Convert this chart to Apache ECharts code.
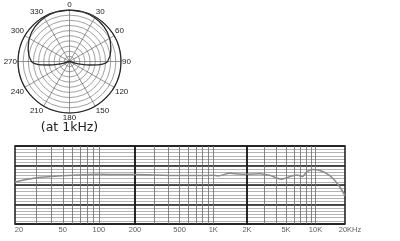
<!DOCTYPE html>
<html><head><meta charset="utf-8">
<script src="https://cdn.jsdelivr.net/npm/echarts@6/dist/echarts.min.js"></script>
<style>html,body{margin:0;padding:0;background:#fff}#c{width:400px;height:241px}</style>
</head><body><div id="c"></div>
<script>
// Polar pattern (at 1kHz): angle in degrees, level on 0..10 ring scale
const polarAngles = [0, 15, 30, 45, 60, 75, 90, 94, 97, 100, 103, 107, 115, 180, 245, 253, 257, 260, 263, 266, 270, 285, 300, 315, 330, 345, 360];
const polarLevels = [10, 9.95, 9.8, 9.5, 9.0, 8.3, 7.4, 6.6, 5.4, 3.9, 2.5, 1.1, 0, 0, 0, 1.1, 2.5, 3.9, 5.4, 6.6, 7.4, 8.3, 9.0, 9.5, 9.8, 9.95, 10];
const angleTickLabels = ['0', '30', '60', '90', '120', '150', '180', '210', '240', '270', '300', '330'];

// Frequency response
const freqs = [20, 30, 40, 60, 100, 150, 200, 300, 500, 760, 1000, 1100, 1400, 1700, 2000, 2700, 3400, 4500, 5500, 6500, 7300, 8200, 9400, 10600, 12500, 15000, 17800, 20000];
const levels = [12.9, 14.2, 14.6, 15.0, 15.3, 15.2, 15.2, 15.1, 14.9, 14.9, 15.0, 14.8, 15.6, 15.4, 15.3, 15.5, 15.0, 13.8, 14.6, 15.1, 14.6, 16.1, 16.8, 16.6, 15.8, 14.1, 11.3, 8.7];
const freqTickValues = [20, 50, 100, 200, 500, 1000, 2000, 5000, 10000, 20000];
const freqTickLabels = ['20', '50', '100', '200', '500', '1K', '2K', '5K', '10K', '20KHz'];
const minorFreqs = [30, 40, 50, 60, 70, 80, 90, 100, 300, 400, 500, 600, 700, 800, 900, 1000, 3000, 4000, 5000, 6000, 7000, 8000, 9000, 10000];
const decades = [[20, 200], [200, 2000], [2000, 20000]];

const gridBoxes = [[15, 120], [135, 112], [247, 98]];
const FONT = 'Liberation Sans, Arial, sans-serif';

const grids = [], xAxes = [], yAxes = [], series = [];
decades.forEach((d, i) => {
  const [lo, hi] = d;
  grids.push({left: gridBoxes[i][0], width: gridBoxes[i][1], top: 146, height: 78,
    show: true, borderColor: '#1a1a1a', borderWidth: 1.5, backgroundColor: 'transparent', z: 5});
  xAxes.push({type: 'log', logBase: 10, gridIndex: i, min: lo, max: hi,
    axisLabel: {show: false}, axisTick: {show: false}, axisLine: {show: false}, splitLine: {show: false}});
  yAxes.push({type: 'value', gridIndex: i, min: 0, max: 24, interval: 1,
    axisLabel: {show: false}, axisTick: {show: false}, axisLine: {show: false},
    splitLine: {show: true, lineStyle: {color: '#a0a0a0', width: 0.8}}});
  yAxes.push({type: 'value', gridIndex: i, min: 0, max: 24, interval: 6,
    axisLabel: {show: false}, axisTick: {show: false}, axisLine: {show: false},
    splitLine: {show: true, lineStyle: {color: '#1a1a1a', width: 1.5}}});
  const pts = [];
  freqs.forEach((f, k) => { if (f >= lo && f <= hi) pts.push([f, levels[k]]); });
  series.push({type: 'line', xAxisIndex: i, yAxisIndex: 2 * i, data: pts, smooth: 0.3,
    symbol: 'none', z: 10, lineStyle: {color: '#8a8a8a', width: 1.5},
    markLine: {silent: true, symbol: 'none', label: {show: false}, animation: false,
      lineStyle: {color: '#6a6a6a', width: 0.8, type: 'solid'},
      data: minorFreqs.filter(f => f > lo && f < hi).map(f => ({xAxis: f}))}});
  const labs = [];
  freqTickValues.forEach((f, k) => {
    if ((f >= lo && f < hi) || (i === decades.length - 1 && f === hi)) {
      const item = {value: [f, 0], name: freqTickLabels[k]};
      if (k === 0) item.label = {offset: [4, 0]};
      if (k === freqTickValues.length - 1) item.label = {offset: [5, 0]};
      labs.push(item);
    }
  });
  series.push({type: 'scatter', xAxisIndex: i, yAxisIndex: 2 * i, data: labs, symbolSize: 0,
    silent: true, z: 12,
    label: {show: true, position: 'bottom', distance: 2, formatter: p => p.name,
      fontFamily: FONT, fontSize: 7.5, color: '#333'}});
});

series.push({type: 'line', coordinateSystem: 'polar', symbol: 'none', smooth: 0.3,
  data: polarAngles.map((a, i) => [polarLevels[i], a]),
  lineStyle: {color: '#2a2a2a', width: 1.3}, z: 10});

const chart = echarts.init(document.getElementById('c'), null, {renderer: 'canvas'});
chart.setOption({
  animation: false,
  backgroundColor: '#fff',
  textStyle: {fontFamily: FONT},
  polar: {center: [69.5, 61.5], radius: 51.5},
  angleAxis: {type: 'value', min: 0, max: 360, interval: 30, startAngle: 90, clockwise: true,
    axisLine: {show: true, lineStyle: {color: '#222', width: 1.2}},
    axisTick: {show: false},
    axisLabel: {show: true, margin: 1, fontSize: 8, color: '#222', fontFamily: FONT,
      formatter: v => (v >= 360 ? '' : angleTickLabels[Math.round(v / 30)])},
    splitLine: {show: true, lineStyle: {color: '#666', width: 0.7}}},
  radiusAxis: {type: 'value', min: 0, max: 10, interval: 1,
    axisLine: {show: false}, axisTick: {show: false}, axisLabel: {show: false},
    splitLine: {show: true, lineStyle: {color: '#777', width: 0.7}}},
  grid: grids,
  xAxis: xAxes,
  yAxis: yAxes,
  graphic: [{type: 'text', x: 69.5, y: 127.5,
    style: {text: '(at 1kHz)', fontSize: 12.5, fontFamily: 'DejaVu Sans, sans-serif', fill: '#222',
      align: 'center', verticalAlign: 'middle'}}],
  series: series
});
</script></body></html>
